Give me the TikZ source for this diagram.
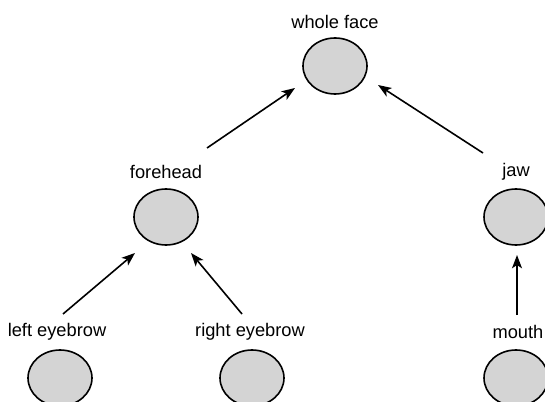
\documentclass[tikz,border=0pt]{standalone}
\usepackage{fontspec}
\setmainfont{Liberation Sans}
\usetikzlibrary{shapes.geometric,arrows.meta}
\definecolor{nodegray}{RGB}{212,212,212}
\tikzset{
  part/.style={ellipse, draw=black, line width=1.2pt, fill=nodegray, minimum width=48pt, minimum height=42pt, inner sep=0pt},
  partlabel/.style={font=\fontsize{13.7}{16}\selectfont, inner sep=1pt},
  uparrow/.style={line width=1.2pt, -{Stealth[length=10pt,width=7.5pt,inset=2.5pt]}}
}
\begin{document}
\begin{tikzpicture}[x=0.75pt,y=-0.75pt]
\useasboundingbox (0,0) rectangle (545,402);
\clip (0,0) rectangle (545,402);
\fill[white] (0,0) rectangle (545,402);
% nodes
\node[part] (wf) at (335,66) {};
\node[partlabel] (wfl) at (335,22) {whole face};
\node[part] (fh) at (166,217) {};
\node[partlabel] (fhl) at (166,172) {forehead};
\node[part] (jaw) at (516,217) {};
\node[partlabel] (jawl) at (516,172) {jaw};
\node[part] (le) at (60,378) {};
\node[partlabel] (lel) at (57,332) {left eyebrow};
\node[part] (re) at (252,378) {};
\node[partlabel] (rel) at (250,332) {right eyebrow};
\node[part] (mo) at (516,378) {};
\node[partlabel] (mol) at (518,332) {mouth};
% connectors
\draw[uparrow] ([shift={(41,-24)}]fhl.center) -- ([shift={(-40,22)}]wf.center);
\draw[uparrow] ([shift={(-33,-19)}]jawl.center) -- ([shift={(43,19)}]wf.center);
\draw[uparrow] ([shift={(6,-18)}]lel.center) -- ([shift={(-31,36)}]fh.center);
\draw[uparrow] ([shift={(-8,-18)}]rel.center) -- ([shift={(25,36)}]fh.center);
\draw[uparrow] ([shift={(-1,-17)}]mol.center) -- ([shift={(1,38)}]jaw.center);
\end{tikzpicture}
\end{document}
